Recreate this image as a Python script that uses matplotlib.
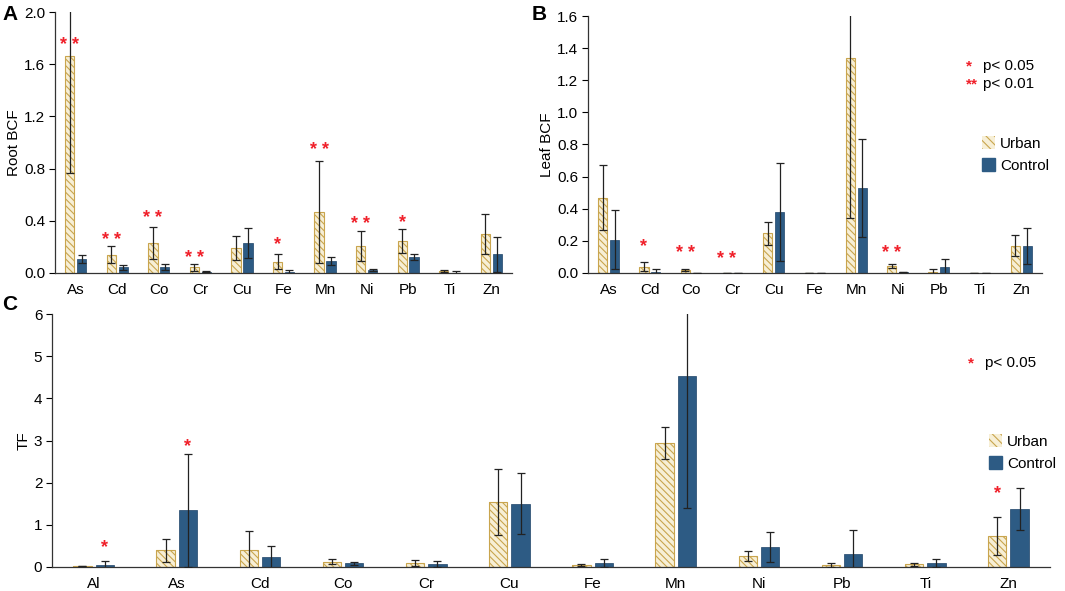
import matplotlib
matplotlib.use("Agg")
import matplotlib.pyplot as plt
import numpy as np
from matplotlib.patches import Patch

plt.rcParams['font.family'] = ['Liberation Sans', 'DejaVu Sans']
plt.rcParams['hatch.linewidth'] = 0.8

# ---------------- data ----------------
elems_ab = ["As", "Cd", "Co", "Cr", "Cu", "Fe", "Mn", "Ni", "Pb", "Ti", "Zn"]

root_urban = [1.66, 0.14, 0.23, 0.043, 0.19, 0.087, 0.47, 0.21, 0.245, 0.012, 0.30]
root_urban_err = [0.89, 0.065, 0.12, 0.024, 0.09, 0.055, 0.39, 0.115, 0.095, 0.008, 0.155]
root_control = [0.107, 0.043, 0.043, 0.008, 0.227, 0.008, 0.092, 0.023, 0.12, 0.003, 0.143]
root_control_err = [0.031, 0.017, 0.023, 0.004, 0.115, 0.012, 0.028, 0.010, 0.023, 0.010, 0.135]
root_sig = ["**", "**", "**", "**", "", "*", "**", "**", "*", "", ""]
root_star_y = [1.74, 0.25, 0.42, 0.11, 0, 0.22, 0.94, 0.37, 0.39, 0, 0]

leaf_urban = [0.47, 0.04, 0.018, 0.003, 0.246, 0.003, 1.34, 0.045, 0.006, 0.002, 0.17]
leaf_urban_err = [0.20, 0.028, 0.004, 0.0, 0.072, 0.0, 1.0, 0.014, 0.018, 0.0, 0.066]
leaf_control = [0.207, 0.006, 0.003, 0.0, 0.377, 0.0, 0.532, 0.005, 0.04, 0.0, 0.17]
leaf_control_err = [0.185, 0.017, 0.0, 0.0, 0.305, 0.0, 0.305, 0.0, 0.05, 0.0, 0.112]
leaf_sig = ["", "*", "**", "**", "", "", "", "**", "", "", ""]
leaf_star_y = [0, 0.165, 0.12, 0.085, 0, 0, 0, 0.12, 0, 0, 0]

elems_c = ["Al", "As", "Cd", "Co", "Cr", "Cu", "Fe", "Mn", "Ni", "Pb", "Ti", "Zn"]
tf_urban = [0.015, 0.40, 0.40, 0.12, 0.10, 1.55, 0.04, 2.95, 0.26, 0.05, 0.06, 0.74]
tf_urban_err = [0.0, 0.27, 0.46, 0.06, 0.07, 0.78, 0.02, 0.38, 0.115, 0.05, 0.045, 0.45]
tf_control = [0.05, 1.34, 0.23, 0.09, 0.07, 1.50, 0.10, 4.54, 0.48, 0.30, 0.10, 1.38]
tf_control_err = [0.09, 1.33, 0.27, 0.035, 0.07, 0.72, 0.10, 3.14, 0.36, 0.57, 0.09, 0.50]
tf_sig = ["*", "*", "", "", "", "", "", "", "", "", "", "*"]
tf_sig_bar = ["control", "control", "", "", "", "", "", "", "", "", "", "urban"]
tf_star_y = [0.47, 2.85, 0, 0, 0, 0, 0, 0, 0, 0, 0, 1.74]

# ---------------- style ----------------
URBAN_FACE = "#f7efd6"
URBAN_HATCH = "#c9a54e"
CONTROL = "#2d5b84"
STAR = "#f0202a"

W, H = 1065, 591
fig = plt.figure(figsize=(W / 100, H / 100), dpi=100)


def ax_at(l, r, t, b):
    return fig.add_axes([l / W, 1 - b / H, (r - l) / W, (b - t) / H])


def draw(ax, cats, u, ue, c, ce, off, width, ylim, yticks, yfmt, ylabel,
         sig, star_y, sig_bar=None):
    x = np.arange(len(cats))
    ax.bar(x - off, u, width, color=URBAN_FACE, edgecolor=URBAN_HATCH,
           hatch="\\\\\\\\\\", linewidth=0.0, zorder=2)
    ax.bar(x - off, u, width, color="none", edgecolor=URBAN_HATCH,
           linewidth=0.8, zorder=2)
    ax.bar(x + off, c, width, color=CONTROL, edgecolor="#1f4468",
           linewidth=0.5, zorder=2)
    ax.errorbar(x - off, u, yerr=ue, fmt="none", ecolor="#222222",
                elinewidth=0.9, capsize=3, capthick=0.9, zorder=3)
    ax.errorbar(x + off, c, yerr=ce, fmt="none", ecolor="#222222",
                elinewidth=0.9, capsize=3, capthick=0.9, zorder=3)
    for i, s in enumerate(sig):
        if not s:
            continue
        xs = x[i] - off
        if sig_bar is not None and sig_bar[i] == "control":
            xs = x[i] + off
        ax.text(xs, star_y[i], " ".join(s), color=STAR, ha="center",
                va="center", fontsize=13, fontweight="bold", zorder=4)
    ax.set_xlim(-0.5, len(cats) - 0.5)
    ax.set_ylim(*ylim)
    ax.set_yticks(yticks)
    ax.set_yticklabels([yfmt.format(v) for v in yticks], fontsize=11)
    ax.set_xticks(x)
    ax.set_xticklabels(cats, fontsize=11)
    ax.tick_params(axis="x", length=0, pad=7)
    ax.tick_params(axis="y", length=4, width=0.8, direction="out", pad=3)
    for s in ("top", "right"):
        ax.spines[s].set_visible(False)
    for s in ("left", "bottom"):
        ax.spines[s].set_linewidth(0.9)
        ax.spines[s].set_color("#333333")
    ax.set_ylabel(ylabel, fontsize=11, labelpad=2)


axA = ax_at(55, 512, 12, 273)
draw(axA, elems_ab, root_urban, root_urban_err, root_control, root_control_err,
     0.144, 0.224, (0, 2.0), [0, 0.4, 0.8, 1.2, 1.6, 2.0], "{:.1f}", "Root BCF",
     root_sig, root_star_y)

axB = ax_at(588, 1042, 16, 273)
draw(axB, elems_ab, leaf_urban, leaf_urban_err, leaf_control, leaf_control_err,
     0.144, 0.224, (0, 1.6), [0, 0.2, 0.4, 0.6, 0.8, 1.0, 1.2, 1.4, 1.6], "{:.1f}",
     "Leaf BCF", leaf_sig, leaf_star_y)

axC = ax_at(52, 1050, 314, 567)
draw(axC, elems_c, tf_urban, tf_urban_err, tf_control, tf_control_err,
     0.135, 0.22, (0, 6), [0, 1, 2, 3, 4, 5, 6], "{:d}", "TF",
     tf_sig, tf_star_y, tf_sig_bar)

# panel letters
fig.text(2 / W, 1 - 20 / H, "A", fontsize=15, fontweight="bold", va="baseline")
fig.text(532 / W, 1 - 20 / H, "B", fontsize=15, fontweight="bold", va="baseline")
fig.text(2 / W, 1 - 310 / H, "C", fontsize=15, fontweight="bold", va="baseline")

# significance keys
def key(x_star, x_txt, y, star, label):
    fig.text(x_star / W, 1 - y / H, star, color=STAR, fontsize=11,
             fontweight="bold", ha="left", va="center")
    fig.text(x_txt / W, 1 - y / H, label, fontsize=11, ha="left", va="center")

key(966, 983, 66, "*", "p< 0.05")
key(966, 983, 84, "**", "p< 0.01")
key(968, 985, 363, "*", "p< 0.05")

handles = [Patch(facecolor=URBAN_FACE, edgecolor=URBAN_HATCH, hatch="\\\\\\\\",
                 linewidth=0.0, label="Urban"),
           Patch(facecolor=CONTROL, edgecolor=CONTROL, label="Control")]
for ax, (lx, ly) in ((axB, (1055, 130)), (axC, (1062, 428))):
    ax.legend(handles=handles, loc="upper right", frameon=False, fontsize=11,
              handlelength=0.9, handleheight=0.9, handletextpad=0.3,
              labelspacing=0.5, borderaxespad=0,
              bbox_to_anchor=(lx / W, 1 - ly / H), bbox_transform=fig.transFigure)

fig.savefig("out.png", dpi=100)
